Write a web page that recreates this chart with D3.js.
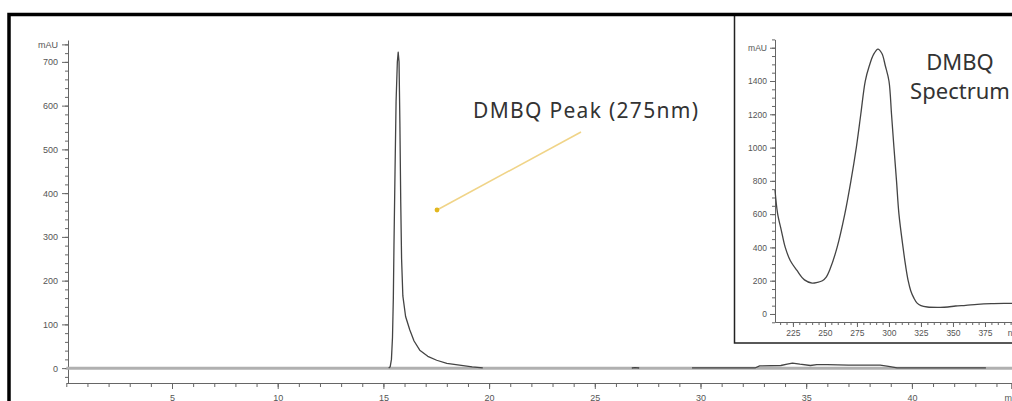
<!DOCTYPE html>
<html>
<head>
<meta charset="utf-8">
<script src="https://cdn.jsdelivr.net/npm/d3@7"></script>
<style>
  body { margin: 0; background: #fff; }
  svg { display: block; }
  .tk text { font-family: "Liberation Sans", Arial, sans-serif; font-size: 9px; fill: #555; }
  .tk line, .tk path { stroke: #666; }
  .note { font-family: "Noto Sans", sans-serif; fill: #333; }
</style>
</head>
<body>
<svg id="chart" width="1012" height="401"></svg>
<script>
// chromatogram, 275 nm (time in min, signal in mAU); null = no dark trace drawn
var chromTime = [15.25, 15.32, 15.38, 15.43, 15.47, 15.50, 15.55, 15.60, 15.66, 15.70, 15.74, 15.78,
                 15.82, 15.86, 15.92, 16.05, 16.25, 16.45, 16.72, 17.10, 17.52, 18.00, 18.60, 19.20, 19.70,
                 null,
                 26.75, 26.90, 27.10,
                 null,
                 29.60, 30.60, 32.60, 32.80, 33.80, 34.10, 34.35, 34.70, 35.20, 35.50, 36.00, 37.00,
                 38.50, 38.90, 39.30, 43.50];
var chromMAU  = [0, 3, 20, 70, 160, 280, 450, 610, 700, 722, 700, 560,
                 380, 250, 165, 118, 87, 62, 41, 27, 18, 11, 7, 3, 0.5,
                 null,
                 0.3, 1.2, 0.3,
                 null,
                 0.5, 0.5, 0.8, 5, 6, 9, 11.5, 9, 6, 8, 8, 7,
                 7, 4, 0.8, 0.8];
// grey baseline trace
var baseTime = [0, 48];
var baseMAU  = [0, 0];

var xTicksMain = [5, 10, 15, 20, 25, 30, 35, 40];
var yTicksMain = [0, 100, 200, 300, 400, 500, 600, 700];
var xUnitMain = "min", yUnitMain = "mAU";

// DMBQ UV spectrum (nm, mAU)
var specNm  = [211, 213, 216, 219, 223, 228, 234, 240, 244, 248, 251, 254, 259.5, 265.5, 270.3,
               274.5, 278, 281.5, 284.6, 288, 291.4, 294.5, 297.2, 300, 302, 303.9, 305.9, 307.8,
               311, 313, 315, 317, 319.5, 322, 325, 330, 340, 346, 352, 360, 369, 380, 395, 400];
var specMAU = [745, 605, 500, 400, 320, 263, 205, 186, 190, 200, 222, 270, 400, 600, 800,
               1000, 1200, 1400, 1490, 1560, 1592, 1565, 1490, 1400, 1200, 1000, 800, 600,
               400, 290, 200, 140, 95, 65, 50, 42, 40, 42, 48, 52, 58, 62, 64, 65];
var xTicksSpec = [225, 250, 275, 300, 325, 350, 375];
var yTicksSpec = [0, 200, 400, 600, 800, 1000, 1200, 1400];
var xUnitSpec = "nm", yUnitSpec = "mAU";

var svg = d3.select("#chart");

// ---------- main chromatogram ----------
var x = d3.scaleLinear().domain([0, 45]).range([66.3, 1017.6]);
var y = d3.scaleLinear().domain([-34, 750]).range([383, 40]);

// y axis: minor then major
svg.append("g").attr("class", "tk").attr("transform", "translate(68,0)")
  .call(d3.axisLeft(y).tickValues(d3.range(-20, 741, 20)).tickSize(3).tickSizeOuter(0).tickFormat(""));
svg.append("g").attr("class", "tk").attr("transform", "translate(68,0)")
  .call(d3.axisLeft(y).tickValues(yTicksMain.concat([740])).tickSize(6).tickSizeOuter(0).tickPadding(4)
    .tickFormat(d => d === 740 ? yUnitMain : d))
  .select(".domain").remove();

// x axis
svg.append("g").attr("class", "tk").attr("transform", "translate(0,383)")
  .call(d3.axisBottom(x).tickValues(d3.range(0, 46, 1)).tickSize(4).tickSizeOuter(0).tickFormat(""));
svg.append("g").attr("class", "tk").attr("transform", "translate(0,383)")
  .call(d3.axisBottom(x).tickValues(xTicksMain.concat([44.7])).tickSize(6).tickSizeOuter(0).tickPadding(6)
    .tickFormat(d => d === 44.7 ? xUnitMain : d))
  .select(".domain").remove();

var mainLine = d3.line().defined(d => d[1] != null).x(d => x(d[0])).y(d => y(d[1]));

svg.append("path")
  .attr("fill", "none").attr("stroke", "#b0b0b0").attr("stroke-width", 3)
  .attr("d", mainLine(d3.zip(baseTime, baseMAU)));

svg.append("path")
  .attr("fill", "none").attr("stroke", "#444").attr("stroke-width", 1.3)
  .attr("stroke-linejoin", "round")
  .attr("d", mainLine(d3.zip(chromTime, chromMAU)));

// annotation
svg.append("line")
  .attr("x1", 581).attr("y1", 132).attr("x2", 437).attr("y2", 210)
  .attr("stroke", "#f0d488").attr("stroke-width", 1.6);
svg.append("circle").attr("cx", 437).attr("cy", 210).attr("r", 2.4).attr("fill", "#e2b71e");
svg.append("text").attr("class", "note")
  .attr("x", 473).attr("y", 118).attr("font-size", 21).attr("textLength", 225)
  .text("DMBQ Peak (275nm)");

// ---------- inset spectrum ----------
var inset = svg.append("g");
inset.append("rect")
  .attr("x", 734.5).attr("y", 14).attr("width", 400).attr("height", 329)
  .attr("fill", "#fff").attr("stroke", "#222").attr("stroke-width", 1.5);

var sx = d3.scaleLinear().domain([211, 400]).range([775, 1017]);
var sy = d3.scaleLinear().domain([-50, 1650]).range([322.3, 39.4]);

inset.append("g").attr("class", "tk").attr("transform", "translate(775,0)")
  .call(d3.axisLeft(sy).tickValues(d3.range(-50, 1651, 50)).tickSize(3).tickSizeOuter(0).tickFormat(""));
inset.append("g").attr("class", "tk").attr("transform", "translate(775,0)")
  .call(d3.axisLeft(sy).tickValues(yTicksSpec.concat([1600])).tickSize(5).tickSizeOuter(0).tickPadding(3)
    .tickFormat(d => d === 1600 ? yUnitSpec : d))
  .select(".domain").remove();
inset.append("g").attr("class", "tk").attr("transform", "translate(0,322)")
  .call(d3.axisBottom(sx).tickValues(d3.range(215, 401, 5)).tickSize(3).tickSizeOuter(0).tickFormat(""));
inset.append("g").attr("class", "tk").attr("transform", "translate(0,322)")
  .call(d3.axisBottom(sx).tickValues(xTicksSpec.concat([397])).tickSize(5).tickSizeOuter(0).tickPadding(3)
    .tickFormat(d => d === 397 ? xUnitSpec : d))
  .select(".domain").remove();
inset.selectAll(".tk text").style("font-size", "8.5px");

inset.append("path")
  .attr("fill", "none").attr("stroke", "#444").attr("stroke-width", 1.3)
  .attr("stroke-linejoin", "round")
  .attr("d", d3.line().curve(d3.curveCatmullRom).x(d => sx(d[0])).y(d => sy(d[1]))(d3.zip(specNm, specMAU)));

inset.append("text").attr("class", "note").attr("x", 960).attr("y", 70)
  .attr("font-size", 22).attr("text-anchor", "middle").text("DMBQ");
inset.append("text").attr("class", "note").attr("x", 960).attr("y", 99)
  .attr("font-size", 22).attr("text-anchor", "middle").text("Spectrum");

// outer frame
svg.append("rect")
  .attr("x", 9).attr("y", 14.5).attr("width", 1100).attr("height", 500)
  .attr("fill", "none").attr("stroke", "#000").attr("stroke-width", 3.5);
</script>
</body>
</html>
